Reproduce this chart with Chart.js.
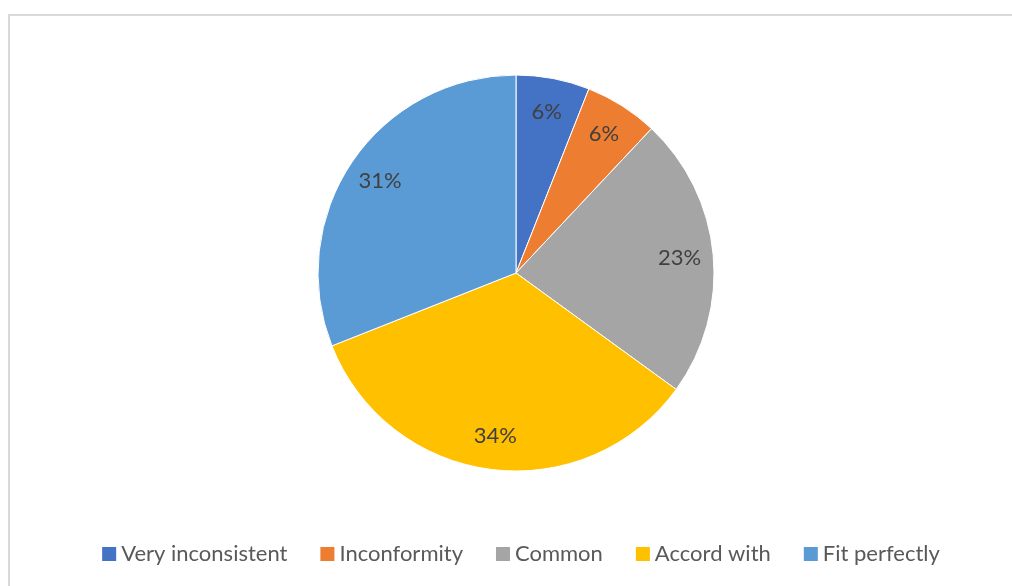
<!DOCTYPE html>
<html>
<head>
<meta charset="utf-8">
<script src="https://cdn.jsdelivr.net/npm/chart.js@4/dist/chart.umd.min.js"></script>
<style>
    html, body { margin: 0; padding: 0; background: #fff; }
    #wrap { position: relative; width: 1012px; height: 586px; overflow: hidden; }
    /* cadre gris du graphique */
    #frame {
        position: absolute; left: 8px; top: 14px; width: 1100px; height: 700px;
        border-left: 2px solid #d9d9d9; border-top: 2px solid #d9d9d9;
    }
    #pieChart { position: absolute; left: 0; top: 0; }
</style>
</head>
<body>
<div id="wrap">
    <div id="frame"></div>
    <canvas id="pieChart" width="1012" height="586"></canvas>
</div>
<script>
// Données du graphique
const categories = ['Very inconsistent', 'Inconformity', 'Common', 'Accord with', 'Fit perfectly'];
const shares = [6, 6, 23, 34, 31];
const sliceColors = ['#4472C4', '#ED7D31', '#A5A5A5', '#FFC000', '#5B9BD5'];

const FONT = 'Lato, "Open Sans", sans-serif';

// Étiquettes de pourcentage à l'intérieur des parts
const sliceLabels = {
    id: 'sliceLabels',
    afterDatasetsDraw(chart) {
        const { ctx } = chart;
        const meta = chart.getDatasetMeta(0);
        ctx.save();
        ctx.font = '22px ' + FONT;
        ctx.fillStyle = '#404040';
        ctx.textAlign = 'center';
        ctx.textBaseline = 'middle';
        meta.data.forEach((arc, i) => {
            const { x, y, startAngle, endAngle, outerRadius } = arc.getProps(['x', 'y', 'startAngle', 'endAngle', 'outerRadius'], true);
            const mid = (startAngle + endAngle) / 2;
            const r = outerRadius * 0.83;
            ctx.fillText(shares[i] + '%', x + Math.cos(mid) * r, y + Math.sin(mid) * r);
        });
        ctx.restore();
    }
};

// Légende en bas, carré collé au texte (style Excel)
const bottomLegend = {
    id: 'bottomLegend',
    afterDraw(chart) {
        const { ctx } = chart;
        const box = 14, gapText = 5, gapItem = 33, cy = 554, cx = 521;
        ctx.save();
        ctx.font = '22px ' + FONT;
        ctx.textBaseline = 'middle';
        const widths = categories.map(c => ctx.measureText(c).width);
        const total = widths.reduce((s, w) => s + box + gapText + w, 0) + gapItem * (categories.length - 1);
        let x = cx - total / 2;
        categories.forEach((c, i) => {
            ctx.fillStyle = sliceColors[i];
            ctx.fillRect(x, cy - box / 2, box, box);
            ctx.fillStyle = '#595959';
            ctx.fillText(c, x + box + gapText, cy);
            x += box + gapText + widths[i] + gapItem;
        });
        ctx.restore();
    }
};

new Chart(document.getElementById('pieChart'), {
    type: 'pie',
    data: {
        labels: categories,
        datasets: [{
            data: shares,
            backgroundColor: sliceColors,
            borderColor: '#ffffff',
            borderWidth: 1
        }]
    },
    options: {
        responsive: false,
        animation: false,
        radius: 198,
        layout: { padding: { top: 0, bottom: 40, left: 20, right: 0 } },
        plugins: {
            tooltip: { enabled: false },
            legend: { display: false }
        }
    },
    plugins: [sliceLabels, bottomLegend]
});
</script>
</body>
</html>
